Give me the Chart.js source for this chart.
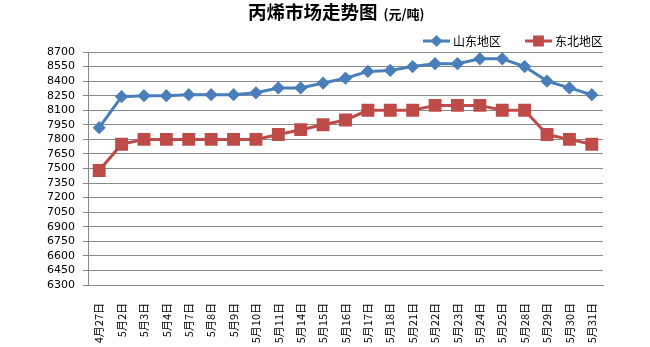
<!DOCTYPE html>
<html lang="zh">
<head>
  <meta charset="UTF-8" />
  <title>丙烯市场走势图</title>
  <script src="https://cdn.jsdelivr.net/npm/chart.js"></script>
  <style>
    body { margin: 0; padding: 0; background: #fff; overflow: hidden; }
    #wrap { width: 650px; height: 347px; }
  </style>
</head>
<body>
  <div id="wrap"><canvas id="lineChart" width="650" height="347"></canvas></div>
<script>
  const dates = ['4月27日', '5月2日', '5月3日', '5月4日', '5月7日', '5月8日', '5月9日', '5月10日',
    '5月11日', '5月14日', '5月15日', '5月16日', '5月17日', '5月18日', '5月21日', '5月22日',
    '5月23日', '5月24日', '5月25日', '5月28日', '5月29日', '5月30日', '5月31日'];
  const shandong = [7920, 8240, 8250, 8250, 8260, 8260, 8260, 8280, 8330, 8330, 8380, 8430,
    8500, 8510, 8550, 8580, 8580, 8630, 8630, 8550, 8400, 8330, 8260];
  const dongbei = [7480, 7750, 7800, 7800, 7800, 7800, 7800, 7800, 7850, 7900, 7950, 8000,
    8100, 8100, 8100, 8150, 8150, 8150, 8100, 8100, 7850, 7800, 7750];
  const yMin = 6300, yMax = 8700, yStep = 150;

  const font = '"Noto Sans CJK SC", "DejaVu Sans", sans-serif';

  // title + legend drawn by hand so they sit where the original has them
  const headerPlugin = {
    id: 'header',
    afterDraw(chart) {
      const ctx = chart.ctx;
      ctx.save();
      ctx.fillStyle = '#000';
      ctx.textBaseline = 'alphabetic';
      ctx.font = 'bold 18.5px ' + font;
      ctx.fillText('丙烯市场走势图', 248, 19);
      const w = ctx.measureText('丙烯市场走势图').width;
      ctx.font = 'bold 13px ' + font;
      ctx.fillText('(元/吨)', 248 + w + 6, 19);

      const items = [{ x: 423, ds: chart.data.datasets[0], r: 4 }, { x: 525, ds: chart.data.datasets[1], r: 5.5 }];
      const y = 41;
      items.forEach(it => {
        ctx.strokeStyle = it.ds.borderColor;
        ctx.lineWidth = 3;
        ctx.beginPath();
        ctx.moveTo(it.x, y);
        ctx.lineTo(it.x + 27, y);
        ctx.stroke();
        Chart.helpers.drawPoint(ctx, {
          pointStyle: it.ds.pointStyle, radius: it.r, rotation: 0, borderWidth: 1
        }, it.x + 13.5, y);
        ctx.fillStyle = it.ds.borderColor;
        ctx.fill();
        ctx.fillStyle = '#000';
        ctx.font = '12px ' + font;
        ctx.textBaseline = 'middle';
        ctx.fillText(it.ds.label, it.x + 30, y);
      });
      ctx.restore();
    }
  };

  new Chart(document.getElementById('lineChart'), {
    type: 'line',
    data: {
      labels: dates,
      datasets: [{
        label: '山东地区',
        data: shandong,
        borderColor: '#4A7EBB',
        backgroundColor: '#4A7EBB',
        borderWidth: 3,
        pointStyle: 'rectRot',
        pointRadius: 4.5,
        tension: 0
      }, {
        label: '东北地区',
        data: dongbei,
        borderColor: '#BE4B48',
        backgroundColor: '#BE4B48',
        borderWidth: 3,
        pointStyle: 'rect',
        pointRadius: 7,
        tension: 0
      }]
    },
    options: {
      responsive: false,
      animation: false,
      layout: { padding: { top: 52, right: 47, left: 0, bottom: 0 } },
      plugins: {
        legend: { display: false },
        title: { display: false },
        tooltip: { enabled: false }
      },
      scales: {
        x: {
          offset: true,
          grid: { display: false },
          border: { display: true, color: '#888', width: 1 },
          ticks: {
            autoSkip: false,
            minRotation: 90,
            maxRotation: 90,
            padding: 10,
            color: '#000',
            font: { family: font, size: 11 }
          },
          afterFit(scale) { scale.height = 62; }
        },
        y: {
          min: yMin,
          max: yMax,
          grid: { color: '#888', lineWidth: 1, tickLength: 5, drawTicks: true },
          border: { display: true, color: '#888', width: 1 },
          ticks: {
            stepSize: yStep,
            autoSkip: false,
            padding: 8,
            color: '#000',
            font: { family: '"DejaVu Sans", sans-serif', size: 11 },
            callback: v => String(v)
          },
          afterFit(scale) { scale.width = 88; }
        }
      }
    },
    plugins: [headerPlugin]
  });
</script>
</body>
</html>
